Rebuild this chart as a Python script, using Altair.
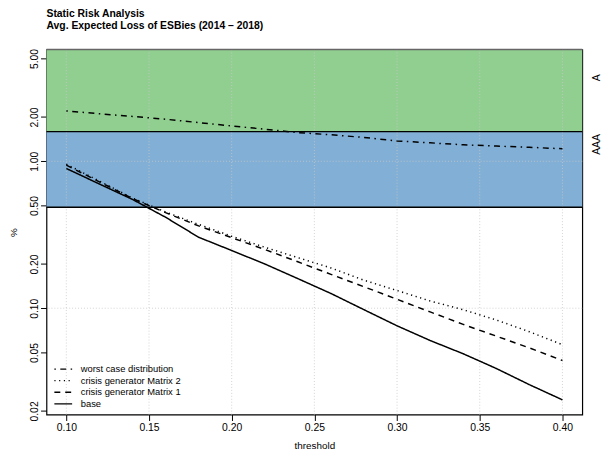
import altair as alt
import pandas as pd

# ---------------- data ----------------
thresholds = [0.10, 0.12, 0.14, 0.16, 0.18, 0.20, 0.22, 0.24,
              0.26, 0.28, 0.30, 0.32, 0.34, 0.36, 0.38, 0.40]
base = [0.893, 0.700, 0.550, 0.416, 0.304, 0.247, 0.200, 0.159,
        0.126, 0.0977, 0.0759, 0.0603, 0.0490, 0.0389, 0.0302, 0.0238]
matrix1 = [0.940, 0.724, 0.558, 0.447, 0.363, 0.302, 0.251, 0.207,
           0.170, 0.140, 0.115, 0.0944, 0.0776, 0.0646, 0.0537, 0.0441]
matrix2 = [0.955, 0.733, 0.562, 0.452, 0.372, 0.309, 0.260, 0.221,
           0.188, 0.155, 0.132, 0.112, 0.0977, 0.0832, 0.0692, 0.0565]
worst = [2.198, 2.104, 2.018, 1.932, 1.832, 1.738, 1.652, 1.567,
         1.514, 1.452, 1.374, 1.334, 1.294, 1.268, 1.245, 1.216]

series_names = ["worst case distribution", "crisis generator Matrix 2",
                "crisis generator Matrix 1", "base"]
series_values = [worst, matrix2, matrix1, base]
dash_patterns = [[1.5, 4.5, 6, 4.5], [1.2, 3.6], [6, 5], [1, 0]]

x_ticks = [0.10, 0.15, 0.20, 0.25, 0.30, 0.35, 0.40]
y_ticks = [0.02, 0.05, 0.10, 0.20, 0.50, 1.00, 2.00, 5.00]
y_grid = [0.10, 1.00]

band_names = ["A", "AAA"]
band_low = [1.59, 0.486]
band_high = [5.76, 1.59]
band_colors = ["#91CF91", "#82AFD5"]
band_label_y = [3.7, 1.3]

X_DOMAIN = [0.088, 0.412]
Y_DOMAIN = [0.0189, 5.76]

W, H = 543, 370
FONT = "Liberation Sans"

# ---------------- tables ----------------
rows = []
for name, vals in zip(series_names, series_values):
    for t, v in zip(thresholds, vals):
        rows.append({"threshold": t, "value": v, "series": name})
lines_df = pd.DataFrame(rows)
bands_df = pd.DataFrame({"band": band_names, "low": band_low, "high": band_high,
                         "ly": band_label_y})
legend_df = pd.DataFrame({"series": series_names, "i": list(range(len(series_names)))})
xgrid_df = pd.DataFrame({"x": x_ticks})
ygrid_df = pd.DataFrame({"y": y_grid})
edge_df = pd.DataFrame({"y": band_low})
top_df = pd.DataFrame({"y": [band_high[0]]})

xscale = alt.Scale(domain=X_DOMAIN, nice=False, zero=False)
yscale = alt.Scale(type="log", domain=Y_DOMAIN, nice=False)
dash_scale = alt.Scale(domain=series_names, range=dash_patterns)

x_axis = alt.Axis(values=x_ticks, format=".2f", title="threshold", grid=False,
                  domain=False, tickSize=6, tickColor="black", labelColor="black",
                  labelFontSize=10.5, labelPadding=2, titleFontSize=10,
                  titleFontWeight="normal", titleColor="black", titlePadding=8,
                  labelFont=FONT, titleFont=FONT)
y_axis = alt.Axis(values=y_ticks, format=".2f", title="%", grid=False,
                  domain=False, tickSize=6, tickColor="black", labelColor="black",
                  labelFontSize=10.5, labelAngle=270, labelAlign="center",
                  labelBaseline="bottom", labelPadding=1, titleFontSize=10,
                  titleFontWeight="normal", titleColor="black", titlePadding=11,
                  labelFont=FONT, titleFont=FONT)

bands = alt.Chart(bands_df).mark_rect(stroke=None).encode(
    x=alt.value(0), x2=alt.value(W),
    y=alt.Y("low:Q", scale=yscale, axis=y_axis), y2="high:Q",
    color=alt.Color("band:N", scale=alt.Scale(domain=band_names, range=band_colors), legend=None),
)

xgrid = alt.Chart(xgrid_df).mark_rule(color="#c8c8c8", strokeDash=[1, 2], strokeWidth=0.8).encode(
    x=alt.X("x:Q", scale=xscale, axis=x_axis)
)
ygrid = alt.Chart(ygrid_df).mark_rule(color="#c8c8c8", strokeDash=[1, 2], strokeWidth=0.8).encode(
    y=alt.Y("y:Q", scale=yscale, axis=y_axis)
)
edges = alt.Chart(edge_df).mark_rule(color="black", strokeWidth=1.4).encode(
    y=alt.Y("y:Q", scale=yscale, axis=y_axis)
)
top = alt.Chart(top_df).mark_rule(color="#666666", strokeWidth=1.6).encode(
    y=alt.Y("y:Q", scale=yscale, axis=y_axis)
)

lines = alt.Chart(lines_df).mark_line(color="black", strokeWidth=1.5).encode(
    x=alt.X("threshold:Q", scale=xscale, axis=x_axis),
    y=alt.Y("value:Q", scale=yscale, axis=y_axis),
    strokeDash=alt.StrokeDash("series:N", scale=dash_scale, legend=None),
    detail="series:N",
)

band_labels = alt.Chart(bands_df).mark_text(angle=270, fontSize=10.5, font=FONT,
                                            color="black", align="center",
                                            baseline="middle").encode(
    x=alt.value(W + 15),
    y=alt.Y("ly:Q", scale=yscale, axis=y_axis),
    text="band:N",
)

leg_base = alt.Chart(legend_df).transform_calculate(ly="324 + datum.i * 11.7")
leg_rules = leg_base.mark_rule(color="black", strokeWidth=1.3).encode(
    x=alt.value(8), x2=alt.value(26),
    y=alt.Y("ly:Q", scale=None),
    strokeDash=alt.StrokeDash("series:N", scale=dash_scale, legend=None),
)
leg_text = leg_base.mark_text(align="left", baseline="middle", fontSize=9.5,
                              font=FONT, color="black").encode(
    x=alt.value(34.7),
    y=alt.Y("ly:Q", scale=None),
    text="series:N",
)

chart = alt.layer(
    bands, xgrid, ygrid, edges, top, lines, band_labels, leg_rules, leg_text
).properties(
    width=W, height=H,
    title=alt.TitleParams(
        text="Static Risk Analysis",
        subtitle="Avg. Expected Loss of ESBies (2014 \u2013 2018)",
        anchor="start", frame="group", fontSize=10.5, subtitleFontSize=10.5,
        fontWeight="bold", subtitleFontWeight="bold", font=FONT, subtitleFont=FONT,
        color="black", subtitleColor="black", subtitlePadding=2, offset=17,
    ),
    autosize=alt.AutoSizeParams(type="none"),
    padding={"left": 39, "top": 39, "right": 20, "bottom": 42},
).configure(
    font=FONT,
    view=alt.ViewConfig(stroke="black", strokeWidth=1.2),
)

chart.save("out.html", embed_options={"renderer": "svg", "actions": False})
